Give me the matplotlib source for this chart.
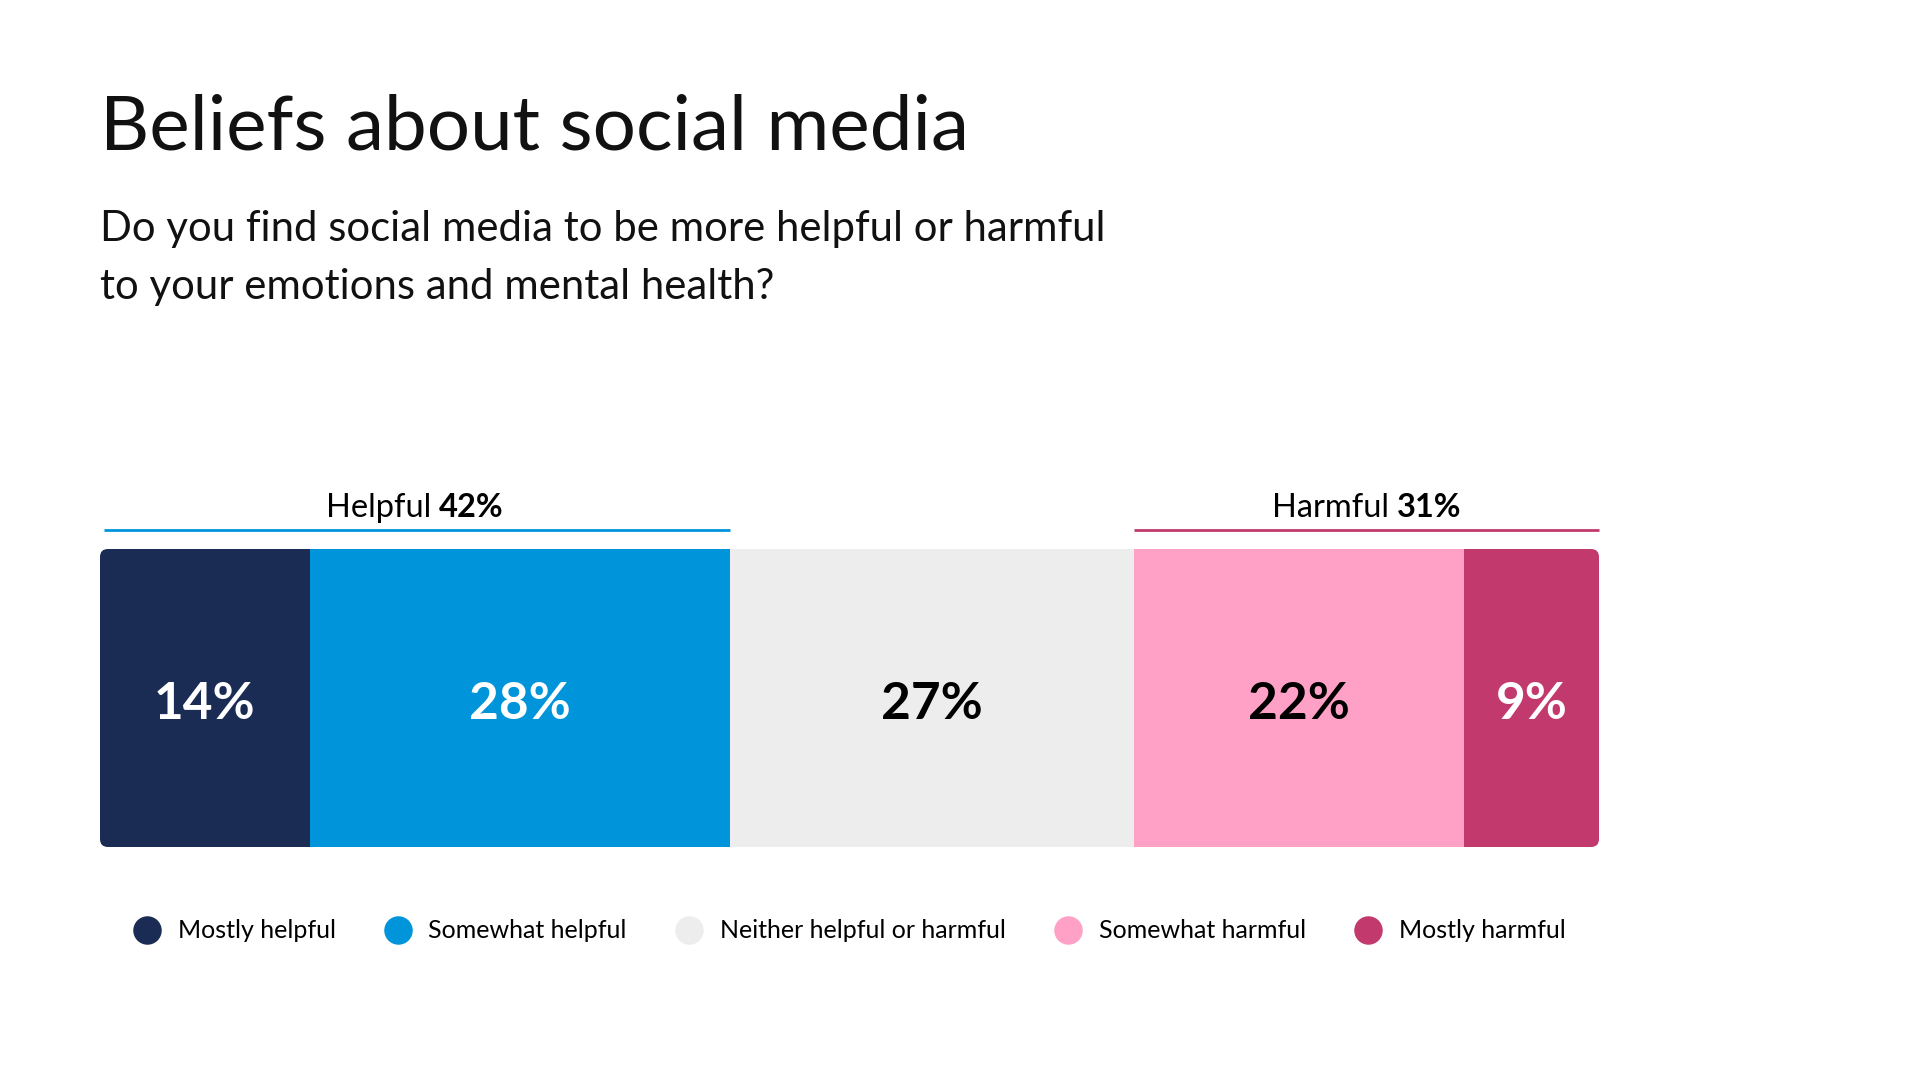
#!/usr/bin/env python3
"""
Beliefs about social media: single 100% stacked bar with group brackets
"""

import matplotlib.pyplot as plt
from matplotlib.patches import FancyBboxPatch
from matplotlib.lines import Line2D

plt.rcParams.update({
    'font.family': ['Lato', 'DejaVu Sans'],
})

# Data
categories = ['Mostly helpful', 'Somewhat helpful', 'Neither helpful or harmful',
              'Somewhat harmful', 'Mostly harmful']
values = [14, 28, 27, 22, 9]
colors = ['#1a2c54', '#0095da', '#ededed', '#ffa1c6', '#c2396e']
text_colors = ['white', 'white', 'black', 'black', 'white']

groups = [('Helpful', [0, 1], '#0095da'), ('Harmful', [3, 4], '#c2396e')]

title = 'Beliefs about social media'
subtitle_lines = ['Do you find social media to be more helpful or harmful',
                  'to your emotions and mental health?']

W, H = 1920, 1080
fig = plt.figure(figsize=(W / 100, H / 100), dpi=100)

fig.text(100 / W, 1 - 150 / H, title, fontsize=55, color='#111111', va='baseline', ha='left')
for i, line in enumerate(subtitle_lines):
    fig.text(100 / W, 1 - (241 + 58 * i) / H, line, fontsize=30.2, color='#111111',
             va='baseline', ha='left')

# bar axes
bx0, bx1, by0, by1 = 100, 1599, 549, 847
ax = fig.add_axes([bx0 / W, 1 - by1 / H, (bx1 - bx0) / W, (by1 - by0) / H])
ax.set_xlim(0, 100)
ax.set_ylim(0, 1)
ax.axis('off')

starts = [sum(values[:i]) for i in range(len(values))]
bars = ax.barh(0.5, values, left=starts, height=1, color=colors, linewidth=0)

# rounded outer corners
rad_px = 8
rx = rad_px / (bx1 - bx0) * 100
ry = rad_px / (by1 - by0)
clip = FancyBboxPatch((0, 0), 100, 1, boxstyle=f'round,pad=0,rounding_size={rx}',
                      mutation_aspect=ry / rx, transform=ax.transData,
                      facecolor='none', edgecolor='none')
ax.add_patch(clip)
for b in bars:
    b.set_clip_path(clip)

val_base = (by1 - 719) / (by1 - by0)
for s, v, tc in zip(starts, values, text_colors):
    ax.text(s + v / 2, val_base, f'{v}%', ha='center', va='baseline', fontsize=37,
            fontweight='bold', color=tc)

# group brackets
fig.canvas.draw()
renderer = fig.canvas.get_renderer()
line_y = 1 + (by0 - 530) / (by1 - by0)
label_y = 1 + (by0 - 517) / (by1 - by0)
px_per_unit = (bx1 - bx0) / 100
for name, idx, col in groups:
    g0 = starts[idx[0]]
    g1 = starts[idx[-1]] + values[idx[-1]]
    total = sum(values[i] for i in idx)
    inset = 0.25 if g0 == 0 else 0
    ax.plot([g0 + inset, g1], [line_y, line_y], color=col, lw=2, clip_on=False,
            solid_capstyle='butt')
    t1 = ax.text(0, label_y, f'{name} ', fontsize=23.5, va='baseline', ha='left')
    t2 = ax.text(0, label_y, f'{total}%', fontsize=23.5, fontweight='bold',
                 va='baseline', ha='left')
    w1 = t1.get_window_extent(renderer).width
    w2 = t2.get_window_extent(renderer).width
    left = (g0 + g1) / 2 - (w1 + w2) / 2 / px_per_unit
    t1.set_x(left)
    t2.set_x(left + w1 / px_per_unit)

# legend
handles = [Line2D([], [], marker='o', linestyle='none', markersize=19.5,
                  markerfacecolor=c, markeredgecolor=c) for c in colors]
fig.legend(handles, categories, loc='center left', bbox_to_anchor=(132 / W, 1 - 931 / H),
           ncol=5, frameon=False, fontsize=18, handlelength=1.2, handletextpad=0.62,
           columnspacing=1.9, borderpad=0, borderaxespad=0)

plt.savefig('out.png', dpi=100)
plt.close()
